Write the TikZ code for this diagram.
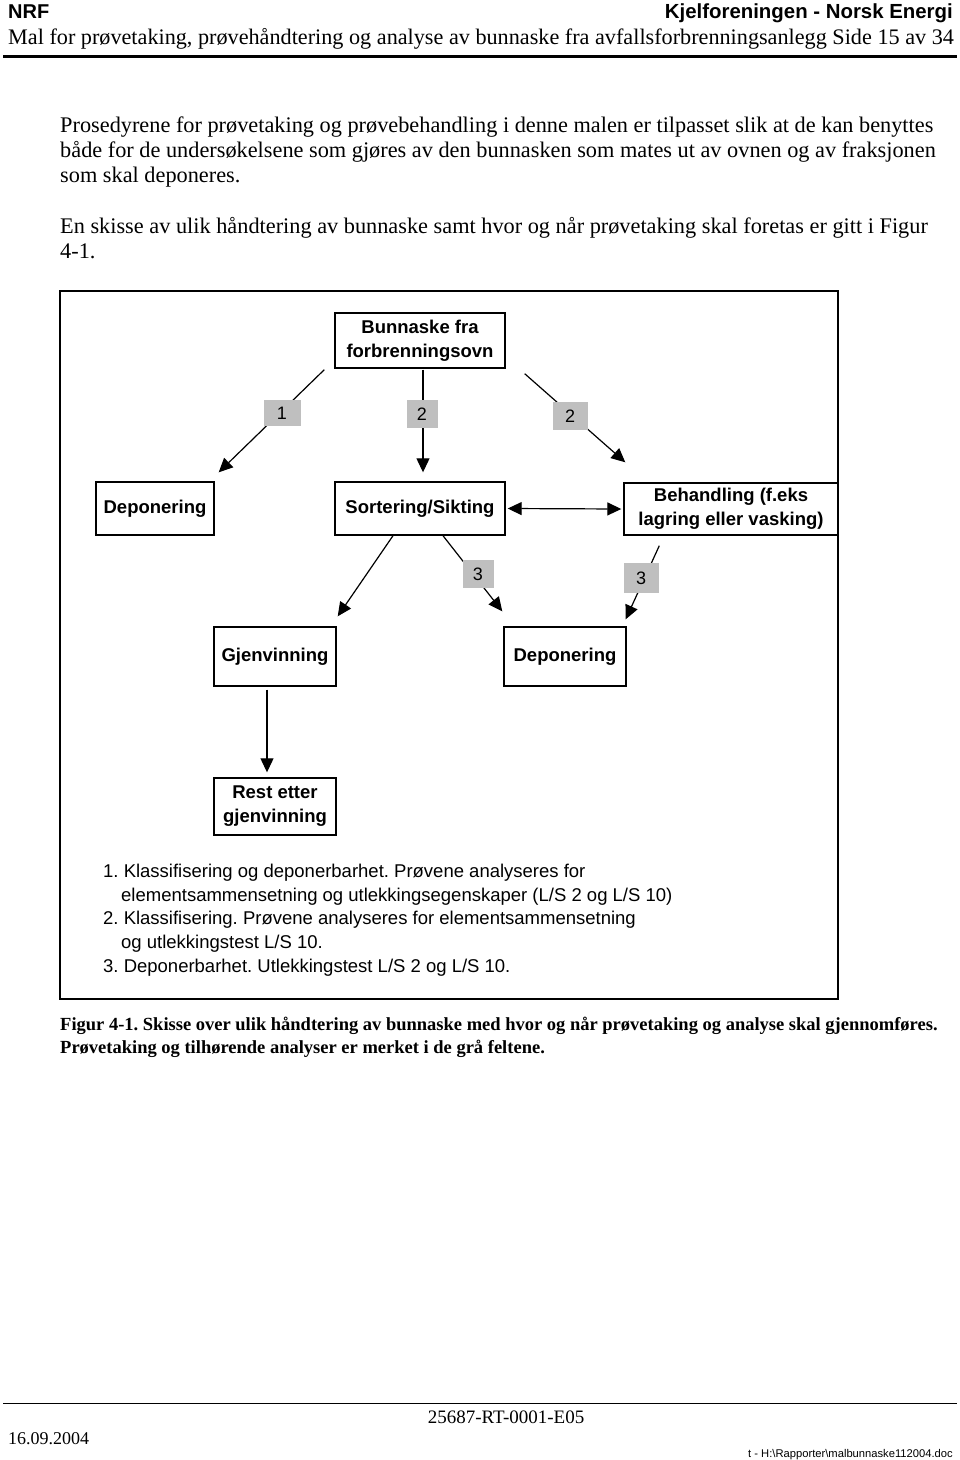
\documentclass[tikz,border=0pt]{standalone}
\usepackage{fontspec}
\setmainfont{Liberation Serif}
\setsansfont{Liberation Sans}
\usetikzlibrary{arrows.meta}
\frenchspacing

\begin{document}
\begin{tikzpicture}[x=1pt, y=-1pt,
        box/.style={draw, line width=1.4pt, align=center, inner sep=2pt,
            font=\sffamily\bfseries\fontsize{18.5}{24}\selectfont},
        grey/.style={fill=black!25, inner sep=0pt,
            font=\sffamily\fontsize{18}{20}\selectfont},
        arr/.style={line width=1.2pt, -{Triangle[length=14pt,width=13pt]}},
        body/.style={anchor=base west, inner sep=0pt, font=\fontsize{22.3}{25}\selectfont}]
        \useasboundingbox (0,0) rectangle (960,1460);
        \fill[white] (0,0) rectangle (960,1460);

        % header
        \node[anchor=base west, inner sep=0pt, font=\sffamily\bfseries\fontsize{20}{22}\selectfont] (nrf) at (8,18) {NRF};
        \node[anchor=base east, inner sep=0pt, font=\sffamily\bfseries\fontsize{20.4}{22}\selectfont] (kjel) at (953,18) {Kjelforeningen - Norsk Energi};
        \node[anchor=base west, inner sep=0pt, font=\fontsize{22.2}{25}\selectfont] (title) at (8,44) {Mal for prøvetaking, prøvehåndtering og analyse av bunnaske fra avfallsforbrenningsanlegg Side 15 av 34};
        \draw[line width=3pt] (3,56) -- (957,56);

        % text
        \node[body] (t1) at (60,132) {Prosedyrene for prøvetaking og prøvebehandling i denne malen er tilpasset slik at de kan benyttes};
        \node[body] (t2) at (60,157) {både for de undersøkelsene som gjøres av den bunnasken som mates ut av ovnen og av fraksjonen};
        \node[body] (t3) at (60,182) {som skal deponeres.};
        \node[body] (t4) at (60,233) {En skisse av ulik håndtering av bunnaske samt hvor og når prøvetaking skal foretas er gitt i Figur};
        \node[body] (t5) at (60,258) {4-1.};

        % frame
        \draw[line width=1.6pt] (60,291) rectangle (838,999);

        % boxes
        \node[box, minimum width=170pt, minimum height=55pt] (bunn) at (420,340.5) {Bunnaske fra\\forbrenningsovn};
        \node[box, minimum width=118pt, minimum height=53pt] (depL) at (155,508.5) {Deponering};
        \node[box, minimum width=170pt, minimum height=53pt] (sort) at (420,508.5) {Sortering/Sikting};
        \node[box, minimum width=214pt, minimum height=52pt] (beh) at (731,509) {Behandling (f.eks\\lagring eller vasking)};
        \node[box, minimum width=122pt, minimum height=59pt] (gjen) at (275,656.5) {Gjenvinning};
        \node[box, minimum width=122pt, minimum height=59pt] (depM) at (565,656.5) {Deponering};
        \node[box, minimum width=122pt, minimum height=57pt] (rest) at (275,806.5) {Rest etter\\gjenvinning};

        % arrows
        \draw[arr] ([xshift=-10pt,yshift=-1pt]bunn.south west) -- ([xshift=4pt,yshift=9pt]depL.north east);
        \draw[arr] ([xshift=3pt,yshift=-1pt]bunn.south) -- ([xshift=3pt,yshift=9pt]sort.north);
        \draw[arr] ([xshift=19pt,yshift=-5pt]bunn.south east) -- ([xshift=2pt,yshift=20pt]beh.north west);
        \draw[line width=1.2pt, {Triangle[length=14pt,width=13pt]}-{Triangle[length=14pt,width=13pt]}] ([xshift=2pt]sort.east) -- ([xshift=-2pt]beh.west);
        \draw[arr] ([xshift=-27pt]sort.south) -- ([xshift=1pt,yshift=10pt]gjen.north east);
        \draw[arr] ([xshift=23pt]sort.south) -- ([xshift=-1pt,yshift=15pt]depM.north west);
        \draw[arr] ([xshift=36pt,yshift=-10pt]beh.south west) -- ([xshift=-1pt,yshift=7pt]depM.north east);
        \draw[arr] ([xshift=-8pt,yshift=-3pt]gjen.south) -- ([xshift=-8pt,yshift=5pt]rest.north);

        % grey fields
        \node[grey, minimum width=37pt, minimum height=26pt] (g1) at (282,413) {1};
        \node[grey, minimum width=31pt, minimum height=28pt] (g2) at (422,414) {2};
        \node[grey, minimum width=35pt, minimum height=28pt] (g3) at (570,416) {2};
        \node[grey, minimum width=31pt, minimum height=28pt] (g4) at (478,574) {3};
        \node[grey, minimum width=35pt, minimum height=30pt] (g5) at (641,578) {3};

        % legend
        \begin{scope}[every node/.style={anchor=base west, inner sep=0pt, font=\sffamily\fontsize{18.5}{21}\selectfont}]
        \node (l1) at (103,877) {1. Klassifisering og deponerbarhet. Prøvene analyseres for};
        \node (l2) at (121,901) {elementsammensetning og utlekkingsegenskaper (L/S 2 og L/S 10)};
        \node (l3) at (103,924) {2. Klassifisering. Prøvene analyseres for elementsammensetning};
        \node (l4) at (121,948) {og utlekkingstest L/S 10.};
        \node (l5) at (103,972) {3. Deponerbarhet. Utlekkingstest L/S 2 og L/S 10.};
        \end{scope}

        % caption
        \node[anchor=base west, inner sep=0pt, font=\bfseries\fontsize{18.5}{22}\selectfont] (c1) at (60,1030) {Figur 4-1. Skisse over ulik håndtering av bunnaske med hvor og når prøvetaking og analyse skal gjennomføres.};
        \node[anchor=base west, inner sep=0pt, font=\bfseries\fontsize{18.5}{22}\selectfont] (c2) at (60,1053) {Prøvetaking og tilhørende analyser er merket i de grå feltene.};

        % footer
        \draw[line width=1pt] (3,1403) -- (957,1403);
        \node[anchor=base, inner sep=0pt, font=\fontsize{19}{22}\selectfont] (doc) at (506,1423) {25687-RT-0001-E05};
        \node[anchor=base west, inner sep=0pt, font=\fontsize{18}{22}\selectfont] (dato) at (8,1444) {16.09.2004};
        \node[anchor=base east, inner sep=0pt, font=\sffamily\fontsize{11.2}{14}\selectfont] (fil) at (953,1457) {t - H:\textbackslash Rapporter\textbackslash malbunnaske112004.doc};
    \end{tikzpicture}
\end{document}
